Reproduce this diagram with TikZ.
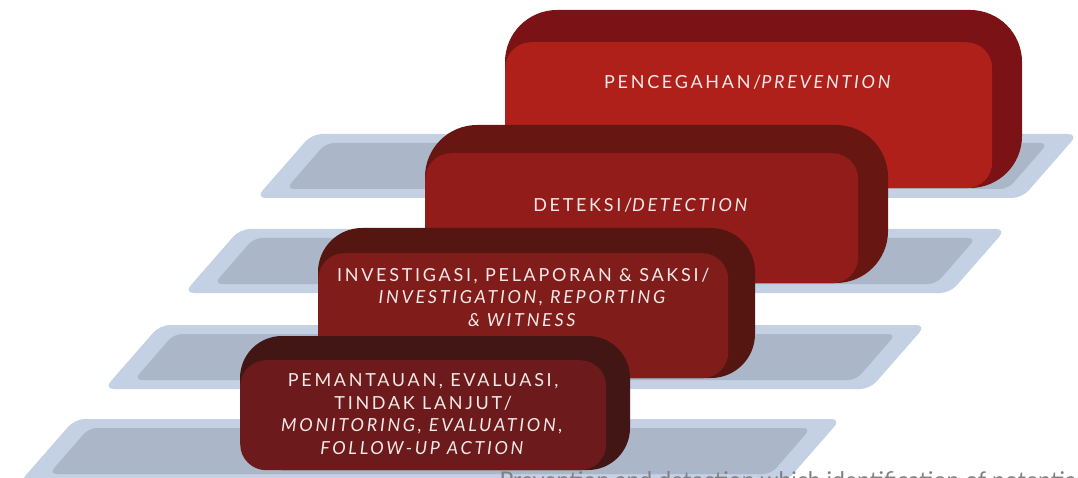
\documentclass[tikz,border=0pt]{standalone}
\usepackage{fontspec}
\setmainfont{Lato}
\newfontfamily\stepfont[LetterSpace=15]{Lato}
\usetikzlibrary{positioning,calc}
\definecolor{platout}{HTML}{C4D0E4}
\definecolor{platin}{HTML}{ABB7C9}
\definecolor{prevfront}{HTML}{B0201A}
\definecolor{prevback}{HTML}{7A1216}
\definecolor{detfront}{HTML}{911C1A}
\definecolor{detback}{HTML}{681612}
\definecolor{invfront}{HTML}{801C1A}
\definecolor{invback}{HTML}{551612}
\definecolor{monfront}{HTML}{6C1A1B}
\definecolor{monback}{HTML}{421614}
\definecolor{txtc}{HTML}{F4E8E8}
\tikzstyle{plat} = [fill=platout, rounded corners=10pt]
\tikzstyle{platinner} = [fill=platin, rounded corners=8pt]
\tikzstyle{backface} = [rounded corners=52pt]
\tikzstyle{frontface} = [rectangle, rounded corners=26pt, inner sep=0pt, anchor=north west]
\tikzstyle{steptext} = [text=txtc, align=center, inner sep=0pt, font=\stepfont\fontsize{18}{22.5}\selectfont]

\begin{document}
\begin{tikzpicture}[x=1pt, y=-1pt]
\useasboundingbox (0,0) rectangle (1078,478);
\clip (0,0) rectangle (1078,478);
% platforms
\fill[plat] (256,198) -- (312,134) -- (1078,134) -- (1022,198) -- cycle;
\fill[platinner] (286,189) -- (326,143) -- (1048,143) -- (1008,189) -- cycle;
\fill[plat] (184,293) -- (240,229) -- (1006,229) -- (950,293) -- cycle;
\fill[platinner] (214,284) -- (254,238) -- (976,238) -- (936,284) -- cycle;
\fill[plat] (104,389) -- (160,325) -- (926,325) -- (870,389) -- cycle;
\fill[platinner] (134,380) -- (174,334) -- (896,334) -- (856,380) -- cycle;
\fill[plat] (19,483) -- (75,419) -- (841,419) -- (785,483) -- cycle;
\fill[platinner] (49,474) -- (89,428) -- (811,428) -- (771,474) -- cycle;

% blocks
\fill[backface, prevback] (505,188) rectangle (1022,10);
\node (prev) [frontface, fill=prevfront, minimum width=487pt, minimum height=146pt] at (505,42) {};
\node (prevtxt) [steptext] at ([yshift=-40pt]prev.north) {PENCEGAHAN/\textit{PREVENTION}};

\fill[backface, detback] (425,283) rectangle (888,125);
\node (det) [frontface, fill=detfront, minimum width=433pt, minimum height=130pt] at (425,153) {};
\node (dettxt) [steptext] at ([yshift=-52pt]det.north) {DETEKSI/\textit{DETECTION}};

\fill[backface, invback, rounded corners=44pt] (318,378) rectangle (755,228);
\node (inv) [frontface, fill=invfront, minimum width=410pt, minimum height=125pt] at (318,253) {};
\node (invtxt) [steptext] at ([yshift=-44pt]inv.north) {INVESTIGASI, PELAPORAN \& SAKSI/\\\textit{INVESTIGATION, REPORTING}\\\textit{\& WITNESS}};

\fill[backface, monback, rounded corners=42pt] (240,470) rectangle (630,336);
\node (mon) [frontface, fill=monfront, minimum width=366pt, minimum height=110pt] at (240,360) {};
\node (montxt) [steptext] at ([yshift=-54pt]mon.north) {PEMANTAUAN, EVALUASI,\\TINDAK LANJUT/\\\textit{MONITORING, EVALUATION,}\\\textit{FOLLOW-UP ACTION}};

\node (foot) [anchor=base west, text=gray, font=\fontsize{23}{26}\selectfont] at (496,488) {Prevention and detection which identification of potential};
\end{tikzpicture}
\end{document}
